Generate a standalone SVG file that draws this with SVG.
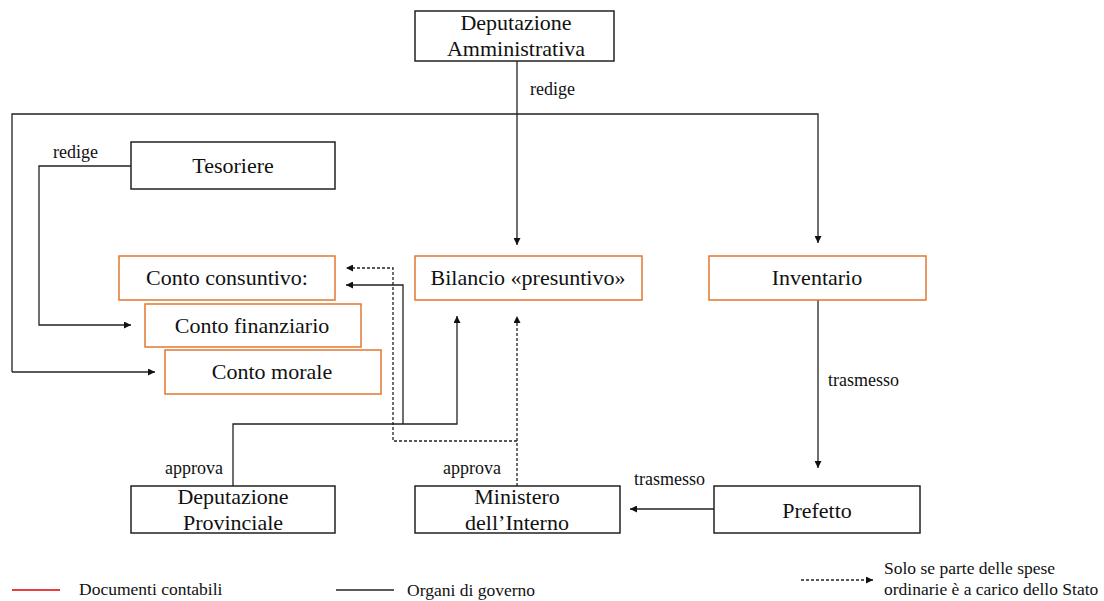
<svg xmlns="http://www.w3.org/2000/svg" width="1104" height="601" viewBox="0 0 1104 601">
<defs>
<style>
.org{fill:#fff;stroke:#222;stroke-width:1.5}
.doc{fill:#fff;stroke:#E2772F;stroke-width:1.5}
.nt{font-family:'Liberation Serif','DejaVu Serif',serif;font-size:22px;fill:#111;text-anchor:middle}
.lb{font-family:'Liberation Serif','DejaVu Serif',serif;font-size:18px;fill:#111}
.lg{font-family:'Liberation Serif','DejaVu Serif',serif;font-size:17.5px;fill:#111}
.ln{fill:none;stroke:#222;stroke-width:1.3}
.ds{fill:none;stroke:#222;stroke-width:1.3;stroke-dasharray:3,2}
</style>
<marker id="ah" viewBox="0 0 10 10" refX="10" refY="5" markerWidth="8" markerHeight="7" markerUnits="userSpaceOnUse" orient="auto">
<path d="M0,0 L10,5 L0,10 Z" fill="#111"/>
</marker>
</defs>
<rect width="1104" height="601" fill="#fff"/>

<g id="connectors">
<path class="ln" d="M517,61 V245" marker-end="url(#ah)"/>
<path class="ln" d="M12,372 V114 H818 V243" marker-end="url(#ah)"/>
<path class="ln" d="M12,372 H155" marker-end="url(#ah)"/>
<path class="ln" d="M131,166 H39 V325 H131" marker-end="url(#ah)"/>
<path class="ln" d="M818,300 V468" marker-end="url(#ah)"/>
<path class="ln" d="M714,509 H630" marker-end="url(#ah)"/>
<path class="ln" d="M233,486 V424 H457 V316" marker-end="url(#ah)"/>
<path class="ln" d="M403,424 V285 H346" marker-end="url(#ah)"/>
<path class="ds" d="M517,486 V316" marker-end="url(#ah)"/>
<path class="ds" d="M517,441 H393 V268 H346" marker-end="url(#ah)"/>
<text class="lb" x="530" y="95">redige</text>
<text class="lb" x="53" y="158">redige</text>
<text class="lb" x="828" y="386">trasmesso</text>
<text class="lb" x="634" y="485">trasmesso</text>
<text class="lb" x="165" y="474">approva</text>
<text class="lb" x="443" y="474">approva</text>
</g>

<g id="n-dep-amm">
<rect class="org" x="415" y="11" width="199" height="50"/>
<text class="nt" x="516" y="30">Deputazione</text>
<text class="nt" x="516" y="56">Amministrativa</text>
</g>
<g id="n-tesoriere">
<rect class="org" x="131" y="142" width="204" height="47"/>
<text class="nt" x="233" y="173">Tesoriere</text>
</g>
<g id="n-consuntivo">
<rect class="doc" x="119" y="256" width="216" height="44"/>
<text class="nt" x="227" y="285">Conto consuntivo:</text>
</g>
<g id="n-finanziario">
<rect class="doc" x="145" y="304" width="216" height="43"/>
<text class="nt" x="252" y="333">Conto finanziario</text>
</g>
<g id="n-morale">
<rect class="doc" x="165" y="350" width="216" height="44"/>
<text class="nt" x="272" y="379">Conto morale</text>
</g>
<g id="n-bilancio">
<rect class="doc" x="415" y="256" width="227" height="44"/>
<text class="nt" x="528" y="285">Bilancio «presuntivo»</text>
</g>
<g id="n-inventario">
<rect class="doc" x="709" y="256" width="217" height="44"/>
<text class="nt" x="817" y="285">Inventario</text>
</g>
<g id="n-dep-prov">
<rect class="org" x="131" y="486" width="204" height="47"/>
<text class="nt" x="233" y="504">Deputazione</text>
<text class="nt" x="233" y="530">Provinciale</text>
</g>
<g id="n-ministero">
<rect class="org" x="415" y="486" width="205" height="47"/>
<text class="nt" x="517" y="504">Ministero</text>
<text class="nt" x="517" y="530">dell’Interno</text>
</g>
<g id="n-prefetto">
<rect class="org" x="714" y="486" width="206" height="47"/>
<text class="nt" x="817" y="518">Prefetto</text>
</g>

<g id="legend">
<line x1="12" y1="590" x2="60" y2="590" stroke="#E00000" stroke-width="1.3"/>
<text class="lg" x="79" y="595">Documenti contabili</text>
<line x1="336" y1="590" x2="394" y2="590" stroke="#222" stroke-width="1.3"/>
<text class="lg" x="407" y="596">Organi di governo</text>
<path class="ds" d="M801,580 H873" marker-end="url(#ah)"/>
<text class="lg" x="884" y="574">Solo se parte delle spese</text>
<text class="lg" x="884" y="595">ordinarie è a carico dello Stato</text>
</g>
</svg>
